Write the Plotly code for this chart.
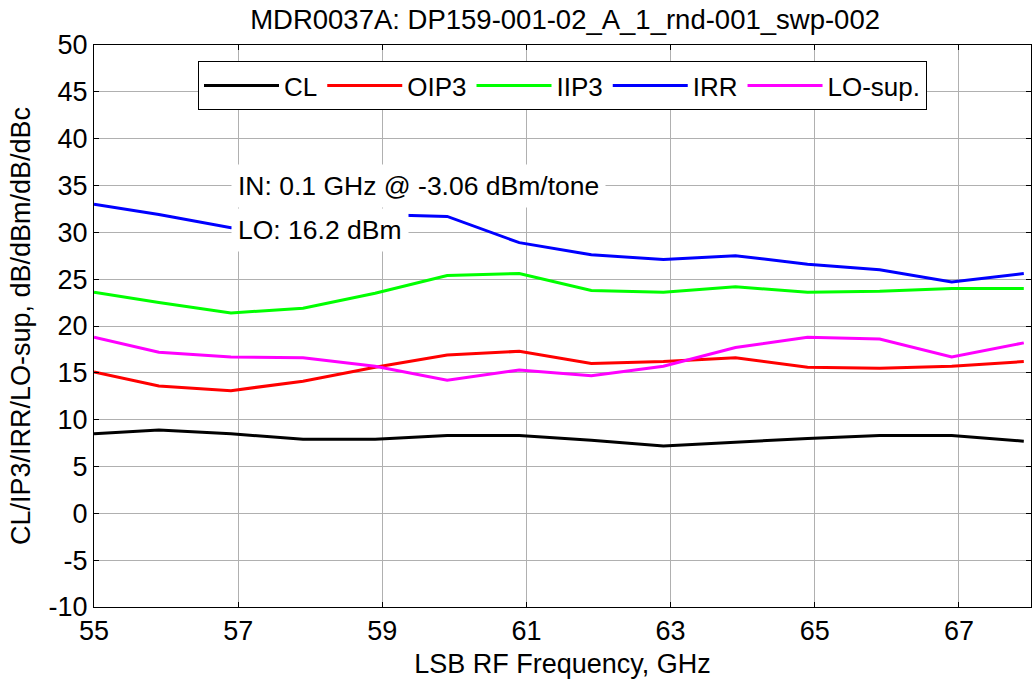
import plotly.graph_objects as go

# Data
freq_ghz = [55.0, 55.9, 56.9, 57.9, 58.9, 59.9, 60.9, 61.9, 62.9, 63.9, 64.9, 65.9, 66.9, 67.9]
cl = [8.5, 8.9, 8.5, 7.9, 7.9, 8.3, 8.3, 7.8, 7.2, 7.6, 8.0, 8.3, 8.3, 7.7]
oip3 = [15.1, 13.6, 13.1, 14.1, 15.6, 16.9, 17.3, 16.0, 16.2, 16.6, 15.6, 15.5, 15.7, 16.2]
iip3 = [23.6, 22.5, 21.4, 21.9, 23.5, 25.4, 25.6, 23.8, 23.6, 24.2, 23.6, 23.7, 24.0, 24.0]
irr = [33.0, 31.9, 30.5, 31.5, 31.9, 31.7, 28.9, 27.6, 27.1, 27.5, 26.6, 26.0, 24.7, 25.6]
lo_sup = [18.8, 17.2, 16.7, 16.6, 15.7, 14.2, 15.3, 14.7, 15.7, 17.7, 18.8, 18.6, 16.7, 18.2]

series_names = ["CL", "OIP3", "IIP3", "IRR", "LO-sup."]
series_values = [cl, oip3, iip3, irr, lo_sup]
series_colors = ["#000000", "#ff0000", "#00ff00", "#0000ff", "#ff00ff"]

x_ticks = [55, 57, 59, 61, 63, 65, 67]
y_ticks = list(range(-10, 51, 5))
y_tick_labels = [str(v) for v in y_ticks]

title_text = "MDR0037A: DP159-001-02_A_1_rnd-001_swp-002"
x_title = "LSB RF Frequency, GHz"
y_title = "CL/IP3/IRR/LO-sup, dB/dBm/dB/dBc"
note_in = "IN: 0.1 GHz @ -3.06 dBm/tone"
note_lo = "LO: 16.2 dBm"

FONT = "Liberation Sans, Arial, sans-serif"
FS = 27

fig = go.Figure()
for name, vals, col in zip(series_names, series_values, series_colors):
    fig.add_trace(go.Scatter(x=freq_ghz, y=vals, mode="lines", name=name,
                             line=dict(color=col, width=3)))

for txt, yv in [(note_in, 35), (note_lo, 30.2)]:
    fig.add_annotation(x=57, y=yv, xref="x", yref="y", text=txt, showarrow=False,
                       xanchor="left", yanchor="middle", xshift=-7,
                       bgcolor="white", borderpad=6,
                       font=dict(family=FONT, size=26.5, color="black"))

axis_common = dict(showline=True, linecolor="black", linewidth=1, mirror="ticks",
                   ticks="inside", ticklen=5, tickcolor="black",
                   showgrid=True, gridcolor="#b0b0b0", gridwidth=1,
                   zeroline=False, automargin=False,
                   tickfont=dict(family=FONT, size=FS, color="black"))

fig.update_layout(
    width=1033, height=684,
    margin=dict(l=94, r=2, t=45, b=77),
    paper_bgcolor="white", plot_bgcolor="white",
    font=dict(family=FONT, size=FS, color="black"),
    title=dict(text=title_text, x=0.547, xanchor="center", y=0.972, yanchor="middle",
               font=dict(family=FONT, size=27.5, color="black")),
    xaxis=dict(range=[55, 68], tickvals=x_ticks,
               title=dict(text=x_title, standoff=8, font=dict(family=FONT, size=FS)),
               **axis_common),
    yaxis=dict(range=[-10, 50], tickvals=y_ticks, ticktext=y_tick_labels,
               title=dict(text=y_title, standoff=10, font=dict(family=FONT, size=FS)),
               **axis_common),
    legend=dict(orientation="h", x=0.5, xanchor="center", y=0.9715, yanchor="top",
                bgcolor="white", bordercolor="black", borderwidth=1,
                itemwidth=75,
                font=dict(family=FONT, size=26, color="black")),
    showlegend=True,
)

fig.write_html("out.html", config={"displayModeBar": False},
               post_script="document.body.style.margin='0';document.body.style.overflow='hidden';")
